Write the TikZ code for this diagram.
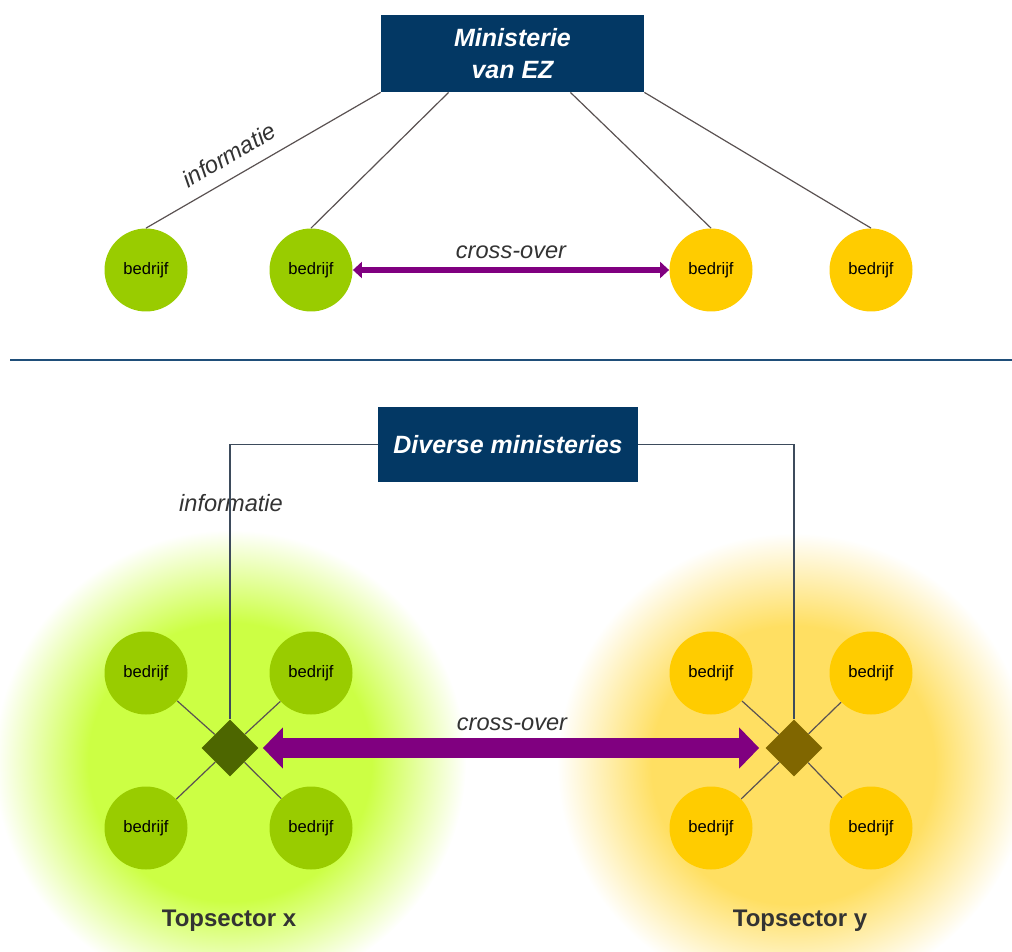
\documentclass[tikz,border=0pt]{standalone}
\usepackage{fontspec}
\setmainfont{Liberation Sans}
\usepackage{tikz}
\usepackage{xcolor}
\usetikzlibrary{arrows.meta, shapes.geometric, calc, positioning}

\definecolor{ezblue}{HTML}{033864}
\definecolor{firmgreen}{HTML}{99CC00}
\definecolor{firmyellow}{HTML}{FFCC00}
\definecolor{glowgreen}{HTML}{CCFF44}
\definecolor{glowyellow}{HTML}{FFDF62}
\definecolor{hubgreen}{HTML}{4D6600}
\definecolor{hubyellow}{HTML}{806600}
\definecolor{crosspurple}{HTML}{800080}
\definecolor{linkgrey}{HTML}{5A5252}
\definecolor{infoline}{HTML}{3D4B5C}
\definecolor{labelgrey}{HTML}{333333}
\definecolor{rulerblue}{HTML}{1F4E79}

\pgfdeclareradialshading{glowx}{\pgfpointorigin}{color(0bp)=(glowgreen); color(15bp)=(glowgreen); color(25bp)=(white); color(50bp)=(white)}
\pgfdeclareradialshading{glowy}{\pgfpointorigin}{color(0bp)=(glowyellow); color(15bp)=(glowyellow); color(25bp)=(white); color(50bp)=(white)}

\begin{document}
\begin{tikzpicture}[x=0.5pt, y=-0.5pt,
    firma/.style={circle, minimum size=41.5pt, inner sep=0pt, text=black, font=\fontsize{8.3}{10}\selectfont},
    ministerie/.style={fill=ezblue, text=white, align=center, inner sep=0pt, font=\bfseries\itshape\fontsize{12.5}{16}\selectfont},
    hub/.style={diamond, minimum width=28.5pt, minimum height=28.5pt, inner sep=0pt},
    link/.style={draw=linkgrey, line width=0.6pt},
    label/.style={text=labelgrey, font=\itshape\fontsize{11.8}{14}\selectfont},
    sector/.style={text=labelgrey, font=\bfseries\fontsize{12}{14}\selectfont}]
    \useasboundingbox (0, 0) rectangle (1012, 952);

    % achtergrond topsectoren
    \shade[shading=glowx] (230, 762) ellipse [x radius=118pt, y radius=116pt];
    \shade[shading=glowy] (793, 765) ellipse [x radius=118pt, y radius=116pt];

    % bovenste helft
    \node[ministerie, minimum width=131.5pt, minimum height=38.5pt] (ez) at (512.5, 53.5) {Ministerie\\van EZ};
    \node[firma, fill=firmgreen] (b1) at (146, 270) {bedrijf};
    \node[firma, fill=firmgreen] (b2) at (311, 270) {bedrijf};
    \node[firma, fill=firmyellow] (b3) at (711, 270) {bedrijf};
    \node[firma, fill=firmyellow] (b4) at (871, 270) {bedrijf};
    \draw[link]
    (b1.north) -- node[pos=0.4, sloped, above=3pt, label] {informatie} (ez.south west)
    ($(ez.south west)+(68, 0)$) -- (b2.north)
    ($(ez.south east)+(-74, 0)$) -- (b3.north)
    (ez.south east) -- (b4.north);
    \draw[crosspurple, line width=3pt, >={Triangle[length=4.5pt, width=8pt]}, <->]
    (b2.east) -- node[above=1pt, label] {cross-over} (b3.west);

    % scheidingslijn
    \coordinate (r1) at (10, 360);
    \coordinate (r2) at (1012, 360);
    \draw[rulerblue, line width=1pt] (r1) -- (r2);

    % onderste helft
    \node[ministerie, minimum width=130pt, minimum height=37.5pt] (div) at (508, 444.5) {Diverse ministeries};
    \node[label] (info) at (231, 503) {informatie};
    \node[hub, fill=hubgreen] (hx) at (230, 748) {};
    \node[hub, fill=hubyellow] (hy) at (794, 748) {};
    \draw[infoline, line width=0.6pt]
    (div.west) -| (hx.north)
    (div.east) -| (hy.north);

    \node[firma, fill=firmgreen] (x1) at (146, 673) {bedrijf};
    \node[firma, fill=firmgreen] (x2) at (311, 673) {bedrijf};
    \node[firma, fill=firmgreen] (x3) at (146, 828) {bedrijf};
    \node[firma, fill=firmgreen] (x4) at (311, 828) {bedrijf};
    \node[firma, fill=firmyellow] (y1) at (711, 673) {bedrijf};
    \node[firma, fill=firmyellow] (y2) at (871, 673) {bedrijf};
    \node[firma, fill=firmyellow] (y3) at (711, 828) {bedrijf};
    \node[firma, fill=firmyellow] (y4) at (871, 828) {bedrijf};
    \draw[link]
    (x1) -- (hx) (x2) -- (hx) (x3) -- (hx) (x4) -- (hx)
    (y1) -- (hy) (y2) -- (hy) (y3) -- (hy) (y4) -- (hy);

    \draw[crosspurple, line width=10pt, >={Triangle[length=10pt, width=20pt]}, <->, shorten <=2pt, shorten >=3pt]
    (hx.east) -- node[above=0.5pt, label] {cross-over} (hy.west);

    \node[sector] (tx) at (229, 921) {Topsector x};
    \node[sector] (ty) at (800, 921) {Topsector y};
\end{tikzpicture}
\end{document}
